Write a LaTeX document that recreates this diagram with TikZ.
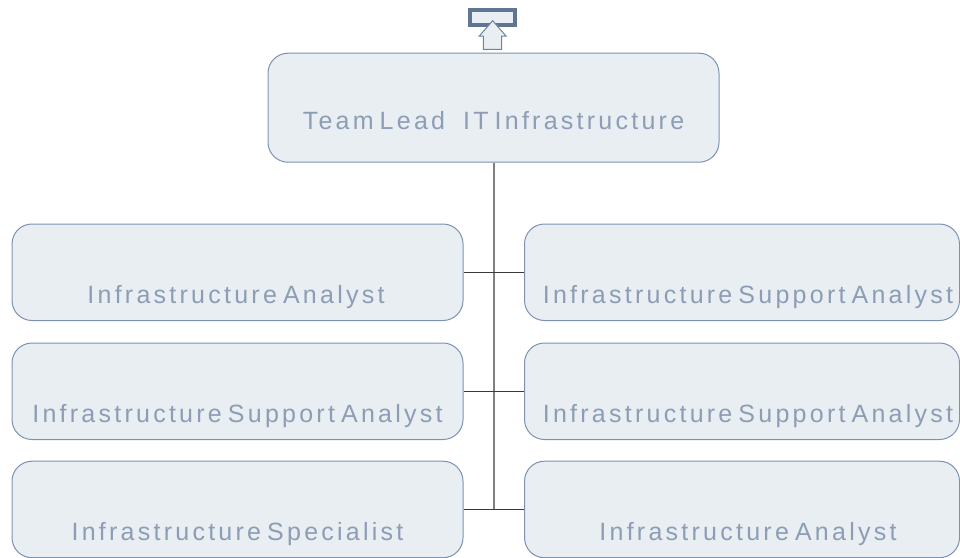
\documentclass[tikz,border=0pt]{standalone}
\usepackage{fontspec}
\newfontfamily\boxfont[LetterSpace=13,WordSpace=0.6]{Liberation Sans}
\definecolor{boxfill}{HTML}{E9EEF2}
\definecolor{boxline}{HTML}{7D92B0}
\definecolor{boxtext}{HTML}{8C9DB5}
\definecolor{iconline}{HTML}{5E7594}
\definecolor{vline}{HTML}{808080}
\definecolor{hline}{HTML}{3A3A3A}
\tikzset{
  orgbox/.style={draw=boxline, fill=boxfill, line width=1pt, rounded corners=20pt,
    rectangle, inner sep=0pt, anchor=north west},
  lbl/.style={inner sep=0pt, anchor=base, text=boxtext, font=\boxfont\fontsize{25}{29}\selectfont},
  vconn/.style={draw=vline, line width=2pt},
  hconn/.style={draw=hline, line width=1.3pt}
}
\begin{document}
\begin{tikzpicture}[x=1pt,y=-1pt]
\useasboundingbox (0,0) rectangle (960,557);
% top icon
\draw[iconline, fill=boxfill, line width=4pt] (469.7,9.7) rectangle (515.3,24.7);
\draw[draw=iconline!90, fill=boxfill, line width=1pt]
  (492.7,20.7) -- (506,36) -- (501.7,36) -- (501.7,49.3) -- (483.3,49.3) -- (483.3,36) -- (479.3,36) -- cycle;
% boxes
\node[orgbox, minimum width=451pt, minimum height=109pt] (top) at (267.5,52.7) {};
\node[orgbox, minimum width=451pt, minimum height=96.5pt] (l1) at (11.5,223.5) {};
\node[orgbox, minimum width=451pt, minimum height=96.5pt] (l2) at (11.5,342.5) {};
\node[orgbox, minimum width=451pt, minimum height=96.5pt] (l3) at (11.5,460.7) {};
\node[orgbox, minimum width=435pt, minimum height=96.5pt] (r1) at (524,223.5) {};
\node[orgbox, minimum width=435pt, minimum height=96.5pt] (r2) at (524,342.5) {};
\node[orgbox, minimum width=435pt, minimum height=96.5pt] (r3) at (524,460.7) {};
% labels
\node[lbl] (ttop) at ([yshift=33pt,xshift=0pt]top.south) {Team Lead\hspace{18pt}IT Infrastructure};
\node[lbl] (tl1) at ([yshift=17.3pt,xshift=-1.5pt]l1.south) {Infrastructure Analyst};
\node[lbl] (tl2) at ([yshift=17.3pt]l2.south) {Infrastructure Support Analyst};
\node[lbl] (tl3) at ([yshift=17.3pt]l3.south) {Infrastructure Specialist};
\node[lbl] (tr1) at ([yshift=17.3pt,xshift=6pt]r1.south) {Infrastructure Support Analyst};
\node[lbl] (tr2) at ([yshift=17.3pt,xshift=6pt]r2.south) {Infrastructure Support Analyst};
\node[lbl] (tr3) at ([yshift=17.3pt,xshift=6pt]r3.south) {Infrastructure Analyst};
% connectors
\coordinate (j3) at (top.south |- l3.east);
\draw[vconn] (top.south) -- (j3);
\draw[hconn] (l1.east) -- (r1.west);
\draw[hconn] (l2.east) -- (r2.west);
\draw[hconn] (l3.east) -- (r3.west);
\end{tikzpicture}
\end{document}
